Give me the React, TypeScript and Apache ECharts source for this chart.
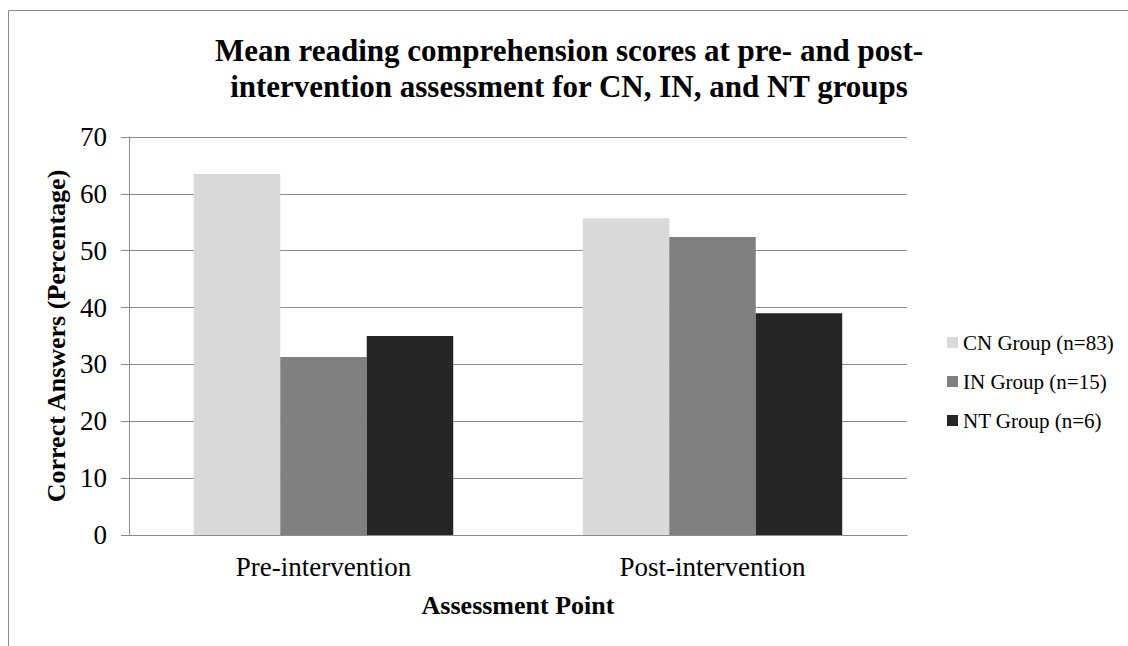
import React, { useEffect, useRef } from "react";
import * as echarts from "echarts";

const categories = ["Pre-intervention", "Post-intervention"];
const seriesNames = ["CN Group (n=83)", "IN Group (n=15)", "NT Group (n=6)"];
const cnValues = [63.5, 55.7];
const inValues = [31.3, 52.4];
const ntValues = [35.0, 39.0];
const seriesColors = ["#D9D9D9", "#808080", "#262626"];
const titleText =
  "Mean reading comprehension scores at pre- and post-\nintervention assessment for CN, IN, and NT groups";
const yAxisTitle = "Correct Answers (Percentage)";
const xAxisTitle = "Assessment Point";

const FONT = '"Liberation Serif", "Times New Roman", serif';

export default function App() {
  const ref = useRef<HTMLDivElement>(null);
  useEffect(() => {
    if (!ref.current) return;
    const chart = echarts.init(ref.current, null, { renderer: "svg" });
    const values = [cnValues, inValues, ntValues];
    chart.setOption({
      animation: false,
      backgroundColor: "#ffffff",
      textStyle: { fontFamily: FONT },
      title: {
        text: titleText,
        left: 569,
        top: 32,
        textAlign: "center",
        padding: 0,
        textStyle: {
          fontFamily: FONT,
          fontSize: 31,
          fontWeight: "bold",
          color: "#000",
          lineHeight: 36,
        },
      },
      graphic: [
        {
          type: "rect",
          shape: { x: 8.5, y: 10.5, width: 1200, height: 800 },
          style: { fill: "none", stroke: "#8c8c8c", lineWidth: 1 },
          silent: true,
          z: -10,
        },
      ],
      legend: {
        orient: "vertical",
        left: 947,
        top: 332,
        itemWidth: 11,
        itemHeight: 11,
        itemGap: 18,
        icon: "rect",
        padding: 0,
        textStyle: {
          fontFamily: FONT,
          fontSize: 21,
          lineHeight: 21,
          color: "#000",
        },
        data: seriesNames,
      },
      grid: { left: 129, right: 221, top: 137, bottom: 111 },
      xAxis: {
        type: "category",
        data: categories,
        name: xAxisTitle,
        nameLocation: "middle",
        nameGap: 57,
        nameTextStyle: {
          fontFamily: FONT,
          fontSize: 26,
          fontWeight: "bold",
          color: "#000",
        },
        axisLine: { lineStyle: { color: "#8c8c8c", width: 1 } },
        axisTick: { show: false },
        axisLabel: {
          fontFamily: FONT,
          fontSize: 27,
          color: "#000",
          margin: 18,
        },
      },
      yAxis: {
        type: "value",
        min: 0,
        max: 70,
        interval: 10,
        name: yAxisTitle,
        nameLocation: "middle",
        nameGap: 57,
        nameTextStyle: {
          fontFamily: FONT,
          fontSize: 26,
          fontWeight: "bold",
          color: "#000",
        },
        axisLine: { show: true, lineStyle: { color: "#8c8c8c", width: 1 } },
        axisTick: {
          show: true,
          length: 8,
          lineStyle: { color: "#8c8c8c", width: 1 },
        },
        axisLabel: {
          fontFamily: FONT,
          fontSize: 27,
          color: "#000",
          margin: 22,
        },
        splitLine: { lineStyle: { color: "#8c8c8c", width: 1 } },
      },
      series: seriesNames.map((name, i) => ({
        name,
        type: "bar",
        data: values[i],
        barGap: "0%",
        barCategoryGap: "33.3%",
        itemStyle: { color: seriesColors[i] },
      })),
    });
    return () => chart.dispose();
  }, []);
  return (
    <div
      ref={ref}
      style={{
        position: "fixed",
        left: 0,
        top: 0,
        width: 1128,
        height: 646,
      }}
    />
  );
}
